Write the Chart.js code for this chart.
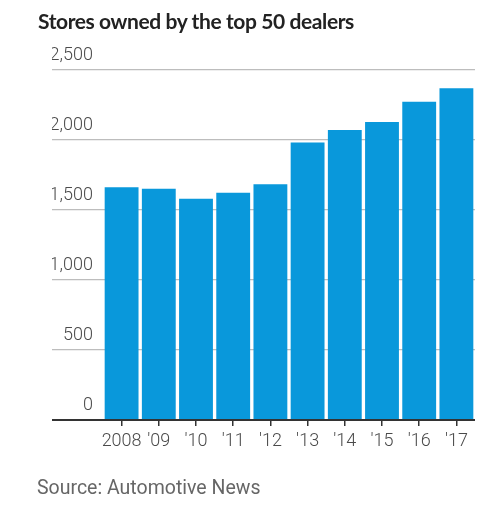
<!DOCTYPE html>
<html>
<head>
<meta charset="utf-8">
<script src="https://cdn.jsdelivr.net/npm/chart.js@4.4.1/dist/chart.umd.min.js"></script>
<style>
  html, body { margin: 0; padding: 0; background: #fff; }
  #wrap { position: relative; width: 500px; height: 506px; }
  #chart { position: absolute; left: 0; top: 0; }
  .txt { position: absolute; white-space: nowrap; }
  #title { left: 38px; top: 8px; font: 700 21px "Lato", sans-serif; color: #222; letter-spacing: -0.4px; line-height: 26px; }
  #source { left: 37px; top: 476px; font: 400 19.5px "Roboto", sans-serif; color: #666; line-height: 24px; }
</style>
</head>
<body>
<div id="wrap">
  <canvas id="chart" width="500" height="506"></canvas>
  <div class="txt" id="title">Stores owned by the top 50 dealers</div>
  <div class="txt" id="source">Source: Automotive News</div>
</div>
<script>
// stores owned
var years = ['2008', "'09", "'10", "'11", "'12", "'13", "'14", "'15", "'16", "'17"];
var stores = [1663, 1652, 1580, 1624, 1684, 1982, 2072, 2128, 2274, 2369];
var yTicks = [0, 500, 1000, 1500, 2000, 2500];

var barBlue = '#0998db';

var config = {
  type: 'bar',
  data: {
    labels: years,
    datasets: [{
      data: stores,
      backgroundColor: barBlue,
      borderWidth: 0,
      barPercentage: 0.91,
      categoryPercentage: 1
    }]
  },
  options: {
    responsive: false,
    animation: false,
    layout: { padding: { left: 52, right: 25, top: 70, bottom: 46 } },
    plugins: { legend: { display: false }, tooltip: { enabled: false } },
    scales: {
      x: {
        border: { display: false },
        grid: { drawOnChartArea: false, offset: false, tickLength: 6, color: '#333', lineWidth: 1.5 },
        ticks: {
          color: '#4a4a4a', padding: 5, maxRotation: 0, minRotation: 0, autoSkip: false,
          font: { family: 'Roboto', size: 18, weight: '300' }
        },
        afterFit: function(scale) { scale.height = 40; }
      },
      y: {
        min: 0,
        max: 2500,
        afterBuildTicks: function(scale) {
          scale.ticks = yTicks.map(function(v) { return { value: v }; });
        },
        border: { display: false },
        grid: {
          tickLength: 51,
          color: function(c) { return c.tick && c.tick.value === 0 ? '#333' : '#bdbdbd'; },
          lineWidth: function(c) { return c.tick && c.tick.value === 0 ? 2 : 1.3; }
        },
        ticks: {
          color: '#4a4a4a',
          padding: -41,
          labelOffset: -15,
          font: { family: 'Roboto', size: 18, weight: '300' },
          callback: function(v) { return v.toLocaleString('en-US'); }
        },
        afterFit: function(scale) { scale.width = 51; }
      }
    }
  }
};

new Chart(document.getElementById('chart'), config);
</script>
</body>
</html>
